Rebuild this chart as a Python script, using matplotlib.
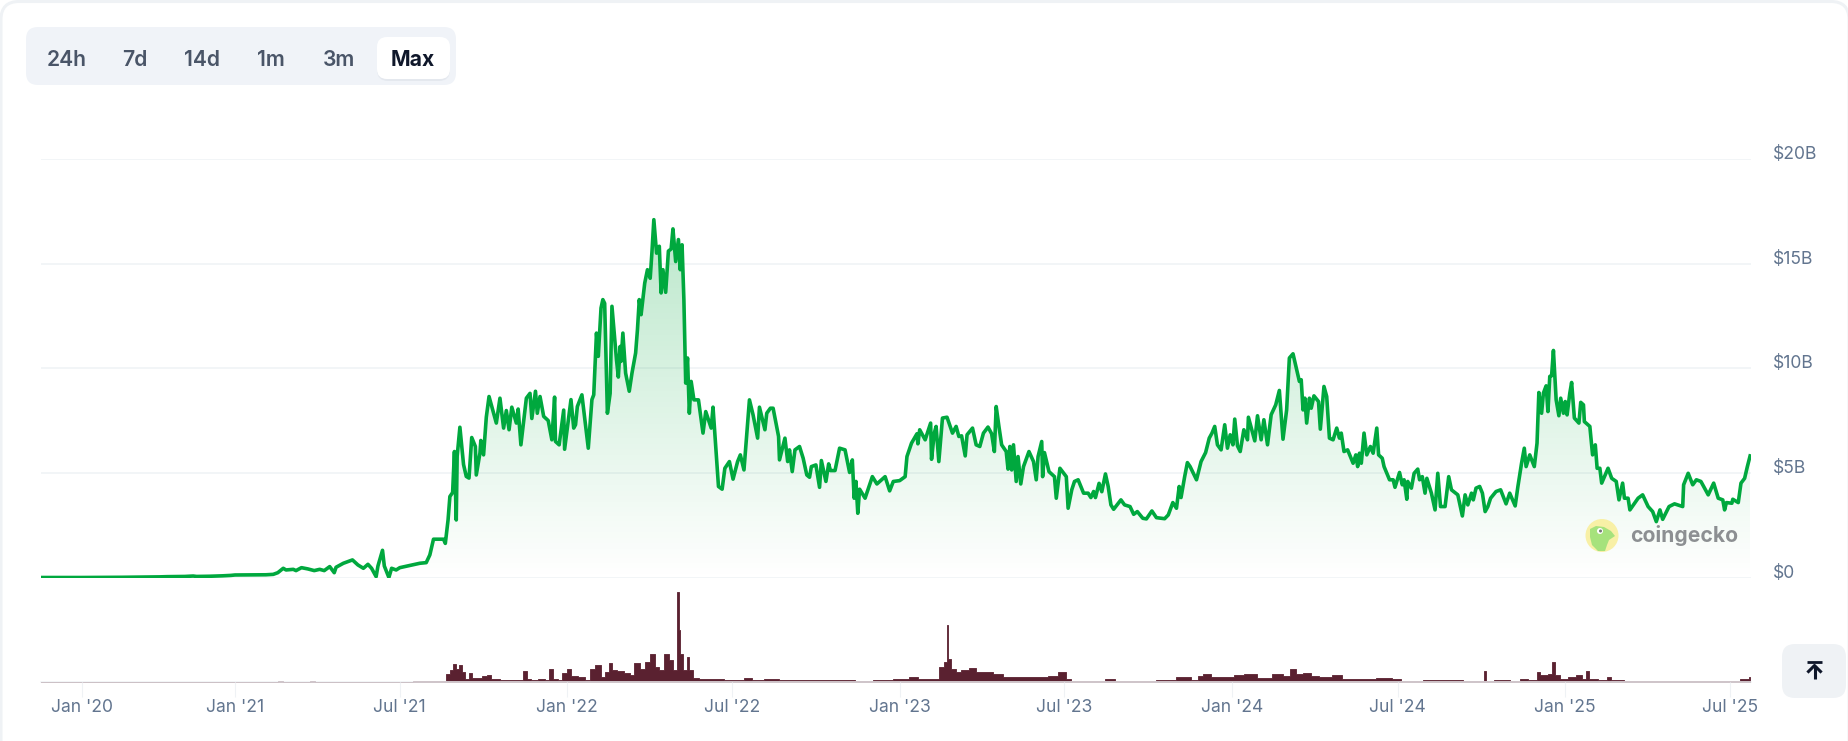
import numpy as np
import pandas as pd
import matplotlib
matplotlib.use('Agg')
import matplotlib.pyplot as plt
from matplotlib.patches import FancyBboxPatch, Circle, Polygon

plt.rcParams['font.family'] = ['Inter', 'DejaVu Sans']

# days counted from 2021-01-01, price in $B
price_days = [
    -464, -366, -270, -180, -163, -120, -100, -92, -60, -30,
    -10, 0, 34, 42, 47, 53, 56, 64, 67, 73,
    80, 87, 93, 98, 104, 109, 111, 119, 129, 135,
    141, 146, 150, 155, 157, 162, 164, 169, 172, 177,
    181, 203, 210, 214, 218, 229, 231, 234, 236, 239,
    241, 243, 244, 247, 251, 254, 257, 260, 264, 265,
    269, 270, 273, 276, 279, 285, 287, 291, 295, 298,
    301, 304, 309, 311, 314, 320, 324, 326, 330, 332,
    335, 339, 344, 348, 351, 352, 356, 361, 362, 369,
    372, 374, 376, 381, 388, 392, 394, 397, 399, 402,
    404, 406, 409, 412, 414, 419, 421, 423, 424, 426,
    429, 433, 436, 440, 442, 444, 446, 450, 453, 456,
    458, 460, 463, 466, 468, 470, 473, 476, 479, 481,
    484, 487, 489, 491, 493, 495, 497, 499, 501, 504,
    509, 514, 517, 523, 525, 531, 535, 538, 543, 547,
    552, 555, 559, 565, 569, 574, 576, 582, 584, 588,
    591, 597, 598, 604, 607, 609, 612, 615, 620, 624,
    628, 631, 633, 638, 642, 644, 649, 652, 654, 659,
    664, 670, 675, 678, 680, 682, 684, 686, 692, 697,
    700, 705, 714, 719, 723, 730, 736, 738, 743, 749,
    750, 752, 758, 761, 764, 765, 768, 770, 773, 777,
    782, 788, 792, 795, 798, 802, 804, 810, 814, 818,
    822, 827, 831, 834, 836, 839, 842, 847, 849, 851,
    853, 855, 858, 860, 863, 866, 872, 877, 880, 882,
    886, 887, 889, 894, 900, 902, 906, 913, 915, 919,
    922, 926, 932, 937, 940, 943, 945, 949, 952, 956,
    959, 962, 965, 973, 977, 983, 987, 991, 997, 1001,
    1007, 1012, 1021, 1025, 1030, 1034, 1037, 1039, 1043, 1046,
    1049, 1056, 1061, 1066, 1070, 1073, 1076, 1079, 1083, 1087,
    1090, 1093, 1096, 1098, 1101, 1104, 1108, 1112, 1113, 1120,
    1123, 1127, 1130, 1134, 1138, 1143, 1147, 1151, 1155, 1158,
    1162, 1169, 1171, 1173, 1175, 1177, 1180, 1182, 1185, 1190,
    1192, 1196, 1199, 1202, 1206, 1210, 1213, 1215, 1218, 1222,
    1228, 1231, 1233, 1235, 1237, 1240, 1243, 1247, 1250, 1254,
    1256, 1260, 1262, 1268, 1272, 1274, 1279, 1282, 1284, 1287,
    1288, 1292, 1295, 1299, 1301, 1304, 1307, 1309, 1314, 1318,
    1321, 1324, 1329, 1333, 1336, 1343, 1348, 1351, 1354, 1358,
    1360, 1363, 1367, 1370, 1373, 1376, 1379, 1385, 1390, 1396,
    1400, 1406, 1409, 1413, 1416, 1418, 1422, 1427, 1430, 1432,
    1435, 1437, 1440, 1442, 1444, 1446, 1448, 1451, 1454, 1456,
    1459, 1461, 1463, 1466, 1468, 1471, 1476, 1478, 1481, 1482,
    1488, 1491, 1494, 1496, 1499, 1501, 1508, 1512, 1517, 1520,
    1524, 1526, 1530, 1532, 1541, 1546, 1552, 1557, 1561, 1565,
    1568, 1575, 1581, 1590, 1591, 1596, 1601, 1605, 1610, 1618,
    1624, 1629, 1634, 1636, 1638, 1644, 1645, 1651, 1654, 1658,
    1661, 1664,
]
price_vals = [
    0.0, 0.0, 0.01, 0.03, 0.04, 0.05, 0.07, 0.05, 0.06, 0.08,
    0.1, 0.12, 0.13, 0.15, 0.23, 0.44, 0.36, 0.39, 0.33, 0.47,
    0.41, 0.33, 0.39, 0.33, 0.52, 0.23, 0.49, 0.68, 0.84, 0.6,
    0.44, 0.63, 0.44, 0.04, 0.55, 1.3, 0.55, 0.0, 0.44, 0.36,
    0.47, 0.68, 0.71, 1.08, 1.83, 1.83, 1.63, 2.75, 3.87, 4.06,
    6.02, 2.75, 5.8, 7.18, 5.4, 4.83, 4.75, 6.69, 6.26, 4.9,
    5.94, 6.55, 5.86, 7.66, 8.65, 7.7, 7.38, 8.57, 7.14, 7.98,
    7.06, 8.14, 7.38, 8.05, 6.34, 8.57, 8.8, 7.6, 8.9, 7.85,
    8.65, 7.7, 7.5, 6.58, 8.62, 6.5, 6.34, 8.0, 6.13, 8.5,
    7.14, 7.3, 8.17, 8.73, 6.18, 8.5, 8.73, 11.68, 10.57, 12.88,
    13.28, 13.1, 7.85, 8.8, 12.96, 10.4, 9.58, 11.04, 10.33, 11.68,
    9.77, 8.9, 9.77, 10.73, 11.84, 13.28, 12.56, 14.07, 14.71, 14.3,
    15.6, 17.1, 15.5, 15.83, 13.6, 14.71, 13.63, 15.6, 15.7, 16.66,
    15.1, 16.15, 14.71, 15.9, 13.28, 9.29, 10.49, 7.85, 9.37, 8.49,
    8.49, 6.9, 7.93, 7.14, 8.14, 4.35, 4.22, 5.22, 5.54, 4.7,
    5.54, 5.86, 5.14, 8.49, 7.77, 6.66, 8.14, 7.06, 7.85, 8.09,
    8.09, 6.74, 5.62, 6.66, 5.54, 6.1, 5.06, 6.1, 6.26, 5.7,
    4.9, 4.79, 5.3, 5.38, 4.31, 5.59, 4.59, 5.43, 5.11, 5.11,
    6.18, 6.1, 5.02, 5.62, 3.79, 4.59, 3.07, 4.22, 3.79, 4.43,
    4.82, 4.47, 4.82, 4.14, 4.59, 4.63, 4.82, 5.78, 6.42, 6.87,
    6.39, 7.06, 6.58, 6.98, 7.38, 5.65, 6.9, 7.22, 5.54, 7.62,
    7.66, 6.9, 7.22, 6.74, 6.77, 5.81, 6.82, 7.14, 6.34, 6.26,
    6.9, 7.19, 6.87, 6.02, 8.17, 7.22, 6.34, 6.02, 5.18, 6.26,
    5.14, 6.34, 4.59, 5.78, 4.47, 5.3, 6.02, 5.54, 4.67, 5.78,
    6.5, 4.82, 5.97, 5.06, 4.82, 3.79, 5.22, 4.82, 3.31, 4.19,
    4.59, 4.67, 4.03, 4.03, 3.82, 4.11, 3.82, 4.5, 4.1, 4.95,
    4.35, 3.47, 3.26, 3.71, 3.47, 3.39, 3.02, 3.15, 2.83, 2.8,
    3.18, 2.86, 2.81, 2.99, 3.58, 3.31, 4.35, 3.82, 4.82, 5.49,
    5.3, 4.67, 5.54, 5.97, 6.66, 6.9, 7.22, 6.34, 6.1, 7.3,
    6.18, 6.82, 6.34, 7.57, 6.29, 6.02, 7.06, 6.58, 7.66, 6.53,
    7.73, 6.58, 7.54, 6.34, 7.78, 8.25, 8.94, 6.61, 8.01, 10.49,
    10.69, 9.37, 9.45, 8.01, 8.57, 7.38, 8.57, 8.09, 8.68, 8.41,
    7.09, 9.13, 8.65, 6.66, 6.58, 7.14, 6.66, 6.9, 6.02, 6.1,
    5.46, 5.86, 5.3, 5.94, 5.46, 6.9, 5.86, 6.26, 5.94, 7.14,
    5.86, 5.7, 5.3, 4.67, 4.67, 4.31, 5.02, 4.43, 4.67, 3.74,
    4.59, 4.27, 4.98, 5.18, 4.67, 4.82, 4.03, 4.74, 4.03, 3.23,
    4.98, 3.39, 3.39, 4.82, 4.19, 3.95, 2.94, 3.95, 3.47, 4.03,
    3.71, 4.27, 4.35, 4.03, 3.15, 3.39, 3.79, 4.11, 4.19, 3.52,
    4.03, 3.42, 4.35, 5.46, 6.18, 5.3, 5.86, 5.3, 6.42, 8.84,
    7.85, 8.81, 9.16, 7.93, 9.61, 9.64, 10.85, 8.49, 7.73, 8.57,
    7.85, 8.41, 7.77, 8.81, 9.32, 7.62, 7.38, 8.37, 8.25, 7.45,
    7.22, 5.86, 6.34, 5.22, 5.22, 4.51, 5.22, 4.74, 4.59, 3.71,
    4.51, 3.79, 3.79, 3.23, 3.79, 3.95, 3.39, 3.15, 2.67, 3.23,
    2.78, 3.39, 3.52, 3.39, 4.43, 4.98, 4.43, 4.67, 4.59, 3.95,
    4.51, 3.79, 3.71, 3.23, 3.58, 3.55, 3.74, 3.58, 4.51, 4.74,
    5.3, 5.81,
]

vol_days = [
    -464, 45, 50, 55, 80, 85, 90, 110, 115, 120, 150, 155, 160, 181,
    211, 230, 234, 238, 241, 244, 247, 251, 255, 259, 262, 269,
    274, 279, 284, 299, 314, 318, 323, 328, 338, 343, 347, 352,
    357, 362, 367, 372, 382, 387, 392, 399, 404, 409, 412, 416,
    424, 431, 436, 441, 448, 453, 459, 463, 468, 474, 479, 483,
    485, 486, 487, 488, 490, 495, 497, 500, 505, 514, 524, 534,
    541, 554, 563, 573, 588, 607, 622, 652, 671, 691, 710, 735,
    745, 755, 769, 777, 781, 782, 783, 784, 789, 794, 801, 811,
    816, 828, 838, 848, 867, 887, 899, 909, 916, 921, 946,
    950, 960, 974, 999, 1023, 1044, 1055, 1060, 1067, 1077, 1092, 1102,
    1114, 1131, 1146, 1156, 1162, 1168, 1178, 1185, 1197, 1212, 1219, 1244,
    1263, 1278, 1283, 1327, 1370, 1371, 1372, 1374, 1375, 1391, 1410, 1413,
    1428, 1431, 1435, 1440, 1445, 1448, 1452, 1459, 1469, 1477, 1482, 1485,
    1489, 1504, 1509, 1513, 1538, 1587, 1650, 1655, 1661, 1664,
]
vol_vals = [
    0.0, 0.0, 0.08, 0.0, 0.0, 0.06, 0.0, 0.0, 0.05, 0.0, 0.0, 0.05, 0.0, 0.01,
    0.1, 0.1, 0.83, 1.23, 1.83, 1.33, 1.67, 1.0, 0.33, 0.9, 0.43, 0.43,
    0.57, 0.7, 0.3, 0.23, 0.23, 1.13, 0.33, 0.17, 0.33, 0.17, 1.27, 0.33,
    0.23, 0.9, 1.3, 0.57, 0.5, 0.23, 1.33, 1.67, 0.5, 1.0, 1.9, 1.17,
    1.1, 0.9, 0.67, 1.9, 1.33, 2.0, 2.83, 1.5, 1.17, 2.83, 2.17, 1.17,
    1.2, 9.0, 9.0, 5.2, 2.83, 1.17, 2.5, 1.17, 0.43, 0.33, 0.33, 0.33,
    0.17, 0.17, 0.37, 0.23, 0.3, 0.17, 0.17, 0.17, 0.17, 0.1, 0.2, 0.3,
    0.5, 0.33, 0.33, 1.5, 2.0, 5.67, 5.67, 2.33, 1.33, 1.0, 1.17, 1.43,
    1.0, 1.0, 0.77, 0.5, 0.5, 0.5, 0.57, 1.0, 0.33, 0.1, 0.1,
    0.1, 0.27, 0.13, 0.1, 0.23, 0.5, 0.17, 0.57, 0.77, 0.5, 0.5, 0.7,
    0.83, 0.4, 0.77, 0.57, 1.3, 0.77, 0.9, 0.57, 0.5, 0.7, 0.3, 0.3,
    0.4, 0.33, 0.13, 0.17, 0.1, 0.1, 1.07, 1.07, 0.13, 0.2, 0.1, 0.33,
    0.17, 0.97, 0.67, 0.73, 0.83, 2.0, 0.67, 0.33, 0.5, 0.67, 0.33, 1.07,
    0.33, 0.23, 0.5, 0.17, 0.1, 0.1, 0.1, 0.3, 0.27, 0.53,
]

tick_dates = ['2020-01-01', '2021-01-01', '2021-07-01', '2022-01-01', '2022-07-01',
              '2023-01-01', '2023-07-01', '2024-01-01', '2024-07-01', '2025-01-01', '2025-07-01']
tick_labels = ["Jan '20", "Jan '21", "Jul '21", "Jan '22", "Jul '22",
               "Jan '23", "Jul '23", "Jan '24", "Jul '24", "Jan '25", "Jul '25"]
price_ticks = [0, 5, 10, 15, 20]
price_labels = ['$0', '$5B', '$10B', '$15B', '$20B']
ranges = ['24h', '7d', '14d', '1m', '3m', 'Max']

W, H = 1848, 741
GREEN = '#00a83e'
MAROON = '#5a2130'
GRID = '#eff2f5'
LABEL = '#62758f'

base = pd.Timestamp('2021-01-01')
price_x = base + pd.to_timedelta(price_days, unit='D')
vol_x = base + pd.to_timedelta(vol_days, unit='D')
ticks_x = pd.to_datetime(tick_dates)

# the axis is ordinal: days before 2021 are squeezed together
b0 = matplotlib.dates.date2num(base)
anchor_d = np.array([b0 - 464, b0, b0 + 1665])
anchor_p = np.array([0.0, 194.0, 1710.0])


def forward(x):
    return np.interp(x, anchor_d, anchor_p)


def inverse(x):
    return np.interp(x, anchor_p, anchor_d)


def axes_px(left, top, right, bottom):
    return fig.add_axes([left / W, 1 - bottom / H, (right - left) / W, (bottom - top) / H])


fig = plt.figure(figsize=(W / 100, H / 100), dpi=100, facecolor='white')

# page furniture, drawn in pixel space
ui = fig.add_axes([0, 0, 1, 1], zorder=0)
ui.set_xlim(0, W)
ui.set_ylim(H, 0)
ui.axis('off')


def box(x0, y0, x1, y1, r, **kw):
    p = FancyBboxPatch((x0 + r, y0 + r), x1 - x0 - 2 * r, y1 - y0 - 2 * r,
                       boxstyle=f'round,pad={r},rounding_size={r}', **kw)
    ui.add_patch(p)
    return p


box(1, 1.5, W + 1, H + 40, 18, fc='white', ec=GRID, lw=2.2)
box(26, 27, 456, 85, 12, fc='#f0f3f8', ec='none')
box(377, 39, 450, 81, 11, fc='#d9dee6', ec='none', alpha=0.5)
box(377, 37, 450, 79, 10, fc='white', ec='none')
for name, cx in zip(ranges, [66.5, 135, 202, 271, 338.7, 413]):
    if name == 'Max':
        ui.text(cx, 60, name, ha='center', va='center', fontsize=15.2, fontweight='bold', color='#0f172a')
    else:
        ui.text(cx, 60, name, ha='center', va='center', fontsize=15.2, fontweight='semibold', color='#4a5568')

box(1782, 644, 1846, 698, 13, fc='#eff2f5', ec='none')
ui.plot([1807, 1822], [662, 662], color='#0f172a', lw=2.0, solid_capstyle='butt')
ui.plot([1814.5, 1814.5], [666, 679], color='#0f172a', lw=2.2, solid_capstyle='butt')
ui.plot([1808.5, 1814.5, 1820.5], [671.5, 665.5, 671.5], color='#0f172a', lw=2.2)

# price panel
ax = axes_px(41, 159, 1751, 577.5)
ax.set_zorder(1)
ax.patch.set_alpha(0)
ax.set_xscale('function', functions=(forward, inverse))
ax.set_ylim(0, 20)
ax.set_yticks(price_ticks)
ax.set_yticklabels(price_labels, va='baseline')
ax.yaxis.tick_right()
ax.tick_params(axis='y', length=0, pad=16, labelsize=12.6, labelcolor=LABEL)
ax.grid(axis='y', color=GRID, lw=1.1, zorder=0)
ax.set_axisbelow(True)
for s in ax.spines.values():
    s.set_visible(False)

area = ax.fill_between(price_x, price_vals, 0, color='none', zorder=1)
xmesh = np.array([b0 - 464, b0 + 1665])
ylevels = np.linspace(0, 17.2, 200)
rgba = np.zeros((199, 1, 4))
rgba[:, 0, :3] = matplotlib.colors.to_rgb(GREEN)
rgba[:, 0, 3] = np.linspace(0.0, 0.27, 199)
mesh = ax.pcolormesh(xmesh, ylevels, rgba, zorder=1)
mesh.set_clip_path(area.get_paths()[0], transform=ax.transData)
ax.plot(price_x, price_vals, color=GREEN, lw=2.6, solid_joinstyle='round', zorder=3)
ax.set_xlim(b0 - 464, b0 + 1665)
ax.set_xticks([])
ax.set_ylim(0, 20)

# watermark
logo = fig.add_axes([0, 0, 1, 1], zorder=2)
logo.set_xlim(0, W)
logo.set_ylim(H, 0)
logo.axis('off')
logo.add_patch(Circle((1602, 535.5), 16.5, fc='#f8f0a6', ec='none'))
logo.add_patch(Polygon([(1590, 529), (1596, 526), (1604, 527), (1611, 531), (1615, 536), (1609, 540),
                        (1607, 545), (1605, 551), (1598, 551), (1592, 545), (1590, 537)],
                       closed=True, fc='#a6e27c', ec='none'))
logo.add_patch(Circle((1600, 531), 3.0, fc='white', ec='none'))
logo.add_patch(Circle((1600.5, 531), 1.5, fc='#777777', ec='none'))
logo.text(1630, 535, 'coingecko', ha='left', va='center', fontsize=15.2, fontweight='bold', color='#8c8f92')

# volume panel
vax = axes_px(41, 592, 1751, 682)
vax.set_zorder(1)
vax.patch.set_alpha(0)
vax.set_xscale('function', functions=(forward, inverse))
vax.fill_between(vol_x, vol_vals, 0, step='mid', color=MAROON, lw=0.6)
vax.set_xlim(b0 - 464, b0 + 1665)
vax.set_ylim(0, 9)
vax.set_yticks([])
for s in ['top', 'left', 'right']:
    vax.spines[s].set_visible(False)
vax.spines['bottom'].set_color(GRID)
vax.spines['bottom'].set_linewidth(1.1)
vax.set_xticks(ticks_x)
vax.set_xticklabels(tick_labels)
vax.tick_params(axis='x', length=10.8, width=0.8, color=GRID, pad=1.5, labelsize=12.6, labelcolor=LABEL)

fig.savefig('out.png', dpi=100)
